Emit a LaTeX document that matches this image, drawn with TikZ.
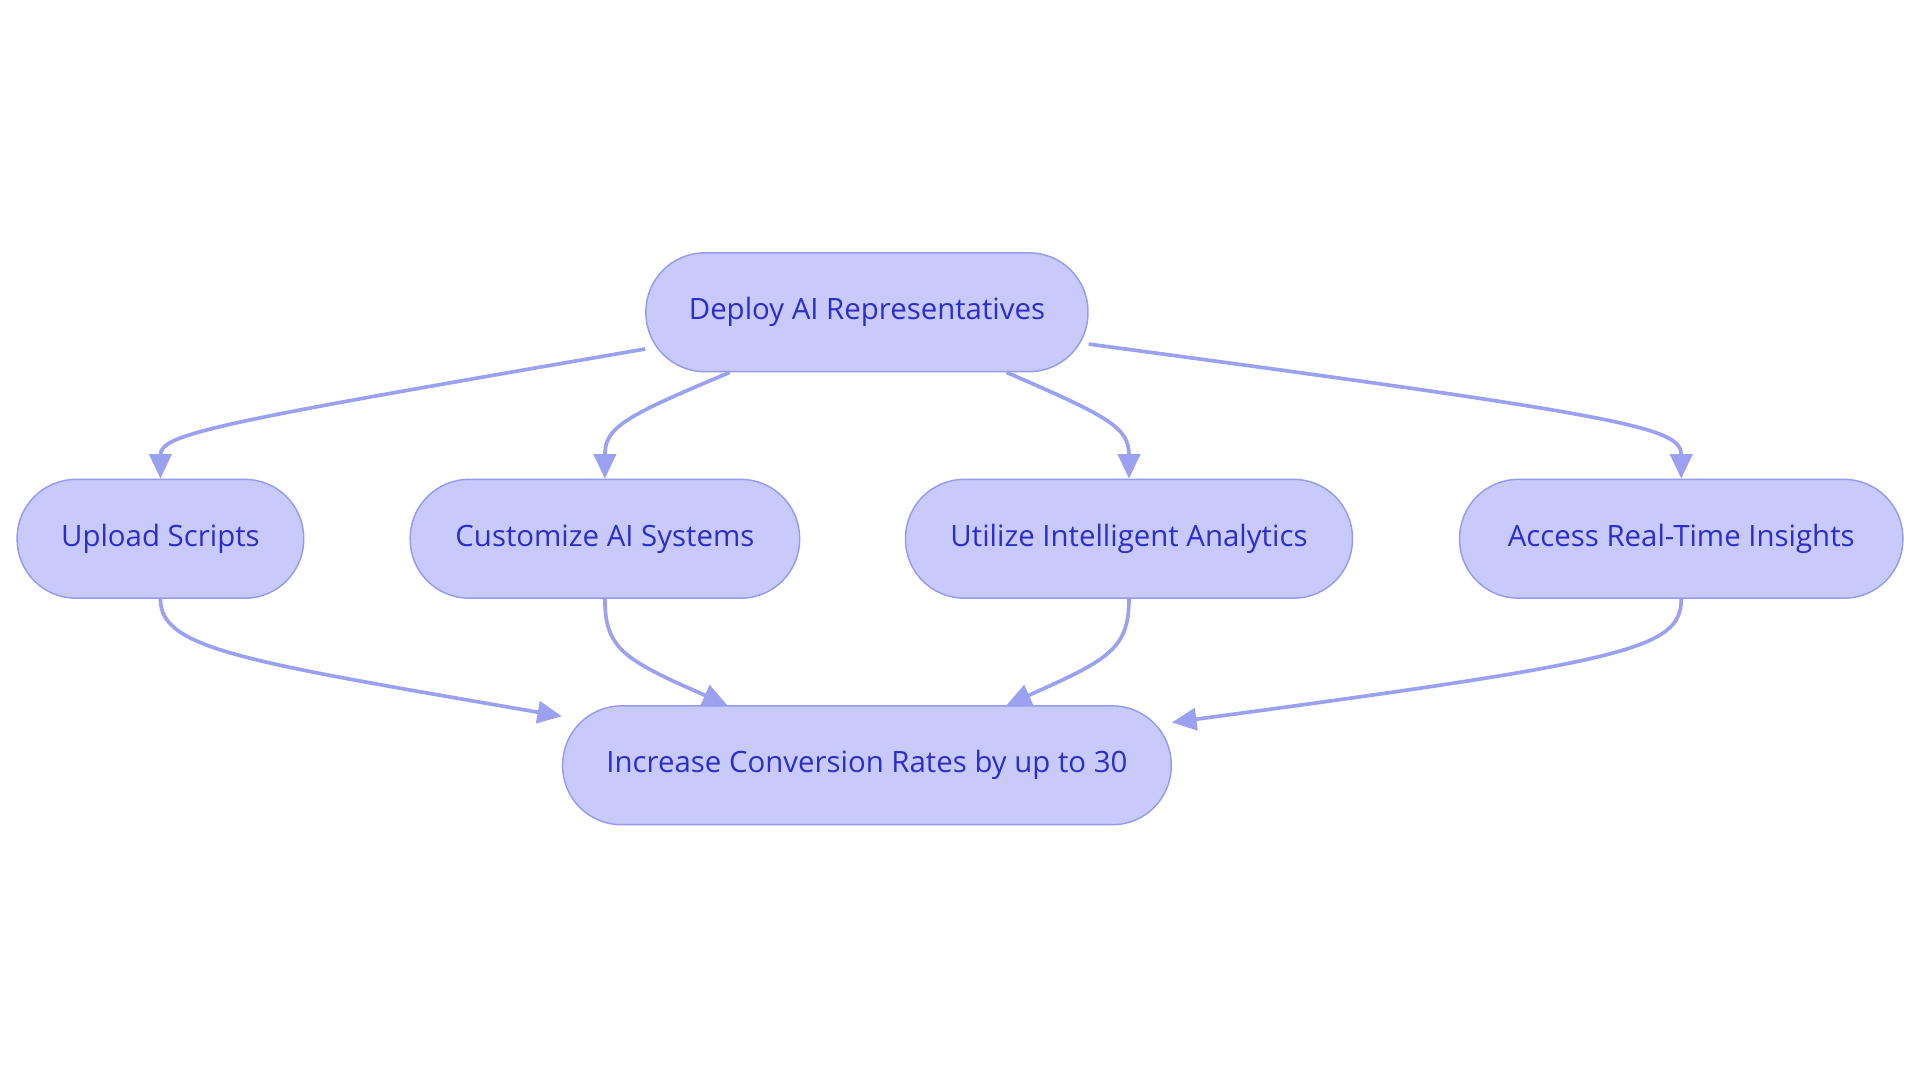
\documentclass[tikz,border=0pt]{standalone}
\usepackage{fontspec}
\setmainfont{Open Sans}
\usetikzlibrary{arrows.meta,calc}
\definecolor{boxfill}{RGB}{200,202,252}
\definecolor{boxline}{RGB}{150,155,236}
\definecolor{boxtext}{RGB}{45,45,200}
\definecolor{edgecol}{RGB}{155,160,240}
\tikzset{
  box/.style={draw=boxline,fill=boxfill,text=boxtext,line width=0.6pt,
    rounded corners=24pt,minimum height=48.5pt,inner sep=0pt,
    font=\fontsize{12}{14}\selectfont},
  flow/.style={draw=edgecol,line width=1.5pt,
    -{Triangle[length=10pt,width=9pt]}}
}
\begin{document}
\begin{tikzpicture}[x=0.5pt,y=-0.5pt]
      \useasboundingbox (0,0) rectangle (1568,884);
      \draw
        (708,255) node[box,minimum width=180.5pt] (deploy){Deploy AI Representatives}
        (131,440) node[box,minimum width=117pt] (upload){Upload Scripts}
        (494,440) node[box,minimum width=159pt] (custom){Customize AI Systems}
        (922,440) node[box,minimum width=182.5pt] (analytics){Utilize Intelligent Analytics}
        (1373,440) node[box,minimum width=181pt] (insights){Access Real-Time Insights}
        (708,625) node[box,minimum width=248.5pt] (increase){Increase Conversion Rates by up to 30};
      \begin{scope}[flow]
        \draw ($(deploy.west)+(0,30)$) .. controls +(-348,60) and +(0,-37) .. (upload.north);
        \draw ($(deploy.south)+(-112,0)$) .. controls +(-86,36) and +(0,-42) .. (custom.north);
        \draw ($(deploy.south)+(114,0)$) .. controls +(83,36) and +(0,-42) .. (analytics.north);
        \draw ($(deploy.east)+(0,26)$) .. controls +(441,59) and +(0,-42) .. (insights.north);
        \draw (upload.south) .. controls +(0,41) and +(-260,-45) .. ($(increase.west)+(0,-40)$);
        \draw (custom.south) .. controls +(0,41) and +(-84,-37) .. ($(increase.north)+(-114,0)$);
        \draw (analytics.south) .. controls +(0,41) and +(83,-37) .. ($(increase.north)+(114,0)$);
        \draw (insights.south) .. controls +(0,41) and +(373,-50) .. ($(increase.east)+(0,-35)$);
      \end{scope}
    \end{tikzpicture}
\end{document}
